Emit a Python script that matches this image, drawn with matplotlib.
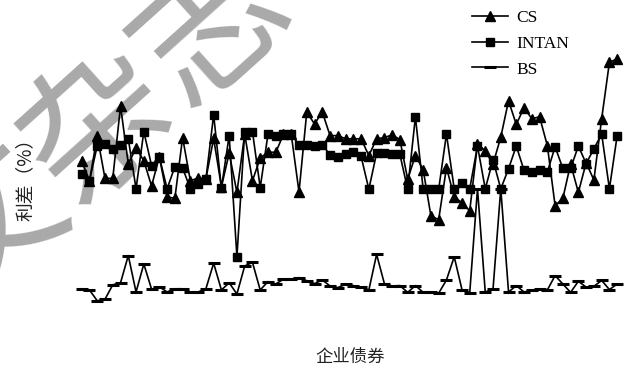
import matplotlib
matplotlib.use("Agg")
import matplotlib.pyplot as plt
import numpy as np

# Spread values (%), 70 corporate bonds
cs = [3.98, 3.48, 4.60, 3.54, 3.54, 5.35, 3.90, 4.30, 3.98, 3.35,
      4.08, 3.08, 3.04, 4.56, 3.48, 3.55, 3.53, 4.54, 3.33, 4.17,
      3.19, 4.65, 3.48, 4.05, 4.20, 4.19, 4.64, 4.64, 3.20, 5.20,
      4.90, 5.20, 4.61, 4.61, 4.53, 4.53, 4.53, 4.11, 4.53, 4.56,
      4.63, 4.51, 3.52, 4.11, 3.76, 2.60, 2.51, 3.81, 3.08, 2.93,
      2.73, 4.40, 4.23, 3.90, 4.57, 5.48, 4.89, 5.31, 5.03, 5.08,
      4.36, 2.86, 3.04, 3.90, 3.19, 3.93, 3.50, 5.03, 6.44, 6.53]

intan = [3.64, 3.48, 4.36, 4.40, 4.28, 4.37, 4.53, 3.28, 4.71, 3.86,
         4.08, 3.28, 3.83, 3.80, 3.28, 3.40, 3.52, 5.13, 3.30, 4.61,
         1.58, 4.71, 4.71, 3.31, 4.64, 4.61, 4.64, 4.64, 4.38, 4.38,
         4.35, 4.38, 4.13, 4.08, 4.14, 4.19, 4.09, 3.27, 4.17, 4.17,
         4.14, 4.14, 3.27, 5.08, 3.27, 3.27, 3.27, 4.65, 3.28, 3.42,
         3.28, 4.35, 3.28, 4.00, 3.28, 3.78, 4.35, 3.74, 3.70, 3.76,
         3.70, 4.33, 3.79, 3.79, 4.35, 3.91, 4.28, 4.65, 3.28, 4.61]

bs = [0.78, 0.75, 0.48, 0.52, 0.88, 0.93, 1.61, 0.70, 1.40, 0.77,
      0.83, 0.70, 0.78, 0.78, 0.70, 0.70, 0.78, 1.42, 0.75, 0.93,
      0.65, 1.35, 1.44, 0.75, 0.96, 0.90, 1.02, 1.02, 1.06, 0.98,
      0.91, 1.00, 0.85, 0.81, 0.89, 0.86, 0.82, 0.75, 1.64, 0.91,
      0.85, 0.86, 0.69, 0.86, 0.69, 0.69, 0.67, 1.00, 1.58, 0.76,
      0.68, 3.28, 0.70, 0.77, 3.28, 0.70, 0.86, 0.70, 0.74, 0.77,
      0.75, 1.11, 0.90, 0.69, 0.97, 0.82, 0.84, 0.99, 0.76, 0.90]

series_labels = ["CS", "INTAN", "BS"]
xlabel_text = "企业债券"
ylabel_text = "利差（%）"
watermark_text = "文杂志"

W, H = 624, 370
fig = plt.figure(figsize=(W / 100, H / 100), dpi=100)
fig.patch.set_facecolor("white")

# watermark behind everything
fig.text(102 / W, 1 - 128 / H, watermark_text, rotation=42,
         fontsize=108, color="#a9a9a9", fontweight="normal",
         family=["Noto Sans CJK SC", "DejaVu Sans"],
         ha="center", va="center", zorder=-5)

ax = fig.add_axes([60 / W, 1 - 320 / H, 564 / W, 280 / H])
ax.patch.set_visible(False)
x = np.arange(len(cs))

ax.plot(x, cs, color="black", lw=1.2, marker="^", ms=7, label=series_labels[0])
ax.plot(x, intan, color="black", lw=1.2, marker="s", ms=6.2, label=series_labels[1])
ax.plot(x, bs, color="black", lw=1.2, marker="_", ms=8, mew=2.2, label=series_labels[2])

ax.set_xlim(-2.80, 69.88)
ax.set_ylim(0, 7)
for s in ax.spines.values():
    s.set_visible(False)
ax.set_xticks([])
ax.set_yticks([])

leg = ax.legend(loc="upper left", bbox_to_anchor=(472 / W, 1 - 10 / H),
                bbox_transform=fig.transFigure, frameon=False,
                prop={"family": "Liberation Serif", "size": 12.5},
                handlelength=2.1, handletextpad=0.45, labelspacing=0.55,
                borderpad=0, borderaxespad=0)

fig.text(350 / W, 1 - 357 / H, xlabel_text, fontsize=12.5,
         family=["Noto Sans CJK SC", "DejaVu Sans"], color="#222222",
         ha="center", va="center")
fig.text(25 / W, 1 - 175 / H, ylabel_text, fontsize=13.5, rotation=90,
         family=["Noto Sans CJK SC", "DejaVu Sans"], color="#222222",
         ha="center", va="center")

fig.savefig("out.png", dpi=100, facecolor="white")
